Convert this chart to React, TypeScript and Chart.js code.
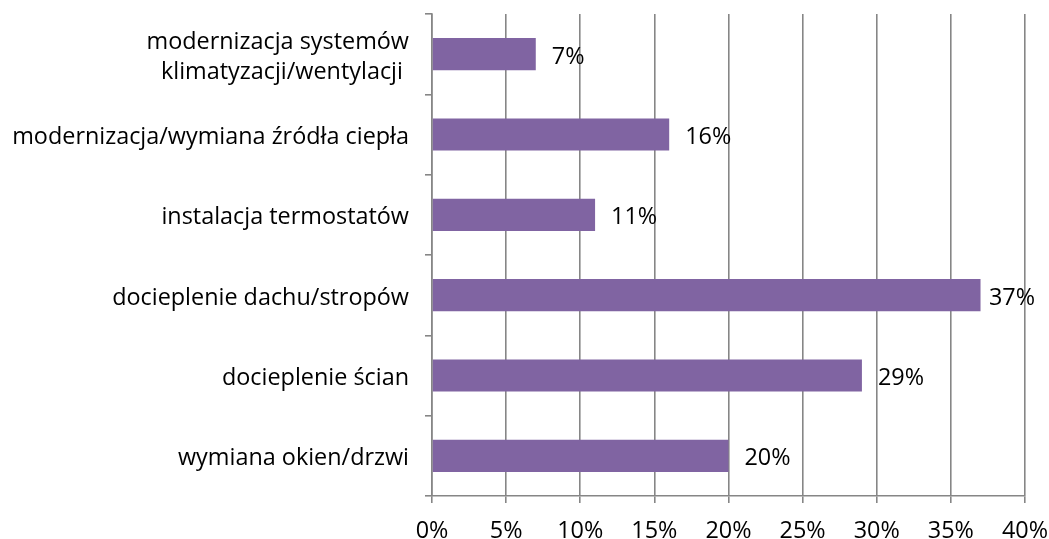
import React, { useEffect, useRef } from "react";
import { Chart, registerables } from "chart.js";

Chart.register(...registerables);

const categories: (string | string[])[] = [
  ["modernizacja systemów", "klimatyzacji/wentylacji "],
  "modernizacja/wymiana źródła ciepła",
  "instalacja termostatów",
  "docieplenie dachu/stropów",
  "docieplenie ścian",
  "wymiana okien/drzwi",
];
const values = [7, 16, 11, 37, 29, 20];
const xTicks = [0, 5, 10, 15, 20, 25, 30, 35, 40];

const FONT = "'Open Sans', sans-serif";
const FSIZE = 23.4;
const GRID = "#868686";
const GW = 1.6;

const labelPlugin = {
  id: "barLabels",
  afterDatasetsDraw(chart: any) {
    const ctx = chart.ctx;
    const meta = chart.getDatasetMeta(0);
    ctx.save();
    ctx.font = `${FSIZE}px ${FONT}`;
    ctx.fillStyle = "#000";
    ctx.textBaseline = "middle";
    ctx.textAlign = "left";
    meta.data.forEach((bar: any, i: number) => {
      const txt = `${values[i]}%`;
      const w = ctx.measureText(txt).width;
      let x = bar.x + 16;
      const maxRight = chart.chartArea.right + 10;
      if (x + w > maxRight) x = maxRight - w;
      ctx.fillText(txt, x, bar.y + 3);
    });
    ctx.restore();
  },
};

export default function App() {
  const ref = useRef<HTMLCanvasElement | null>(null);
  useEffect(() => {
    if (!ref.current) return;
    const chart = new Chart(ref.current, {
      type: "bar",
      data: {
        labels: categories,
        datasets: [
          {
            data: values,
            backgroundColor: "#8064A2",
            borderWidth: 0,
            barPercentage: 0.4,
            categoryPercentage: 1,
          },
        ],
      },
      options: {
        indexAxis: "y",
        animation: false,
        responsive: false,
        maintainAspectRatio: false,
        layout: { padding: { top: 14, right: 24, bottom: 0, left: 0 } },
        plugins: { legend: { display: false }, tooltip: { enabled: false } },
        scales: {
          x: {
            min: 0,
            max: 40,
            afterBuildTicks: (s: any) => {
              s.ticks = xTicks.map((v) => ({ value: v }));
            },
            afterFit: (s: any) => {
              s.height = 539 - 496;
              s.paddingLeft = 0;
              s.paddingRight = 0;
            },
            border: { color: GRID, width: GW },
            grid: { color: GRID, lineWidth: GW, tickLength: 7, drawTicks: true },
            ticks: {
              color: "#000",
              font: { family: FONT, size: FSIZE },
              padding: 14,
              maxRotation: 0,
              callback: (v: any) => `${v}%`,
            },
          },
          y: {
            offset: true,
            afterFit: (s: any) => {
              s.width = 432;
              s.paddingTop = 0;
              s.paddingBottom = 0;
            },
            border: { color: GRID, width: GW },
            grid: {
              offset: true,
              drawOnChartArea: false,
              drawTicks: true,
              tickLength: 7,
              lineWidth: GW,
              color: GRID,
            },
            ticks: {
              color: "#000",
              font: { family: FONT, size: FSIZE, lineHeight: 1.3 },
              padding: 16,
              labelOffset: 3,
            },
          },
        },
      },
      plugins: [labelPlugin],
    });
    return () => chart.destroy();
  }, []);
  return (
    <div style={{ position: "fixed", left: 0, top: 0, width: 1049, height: 539, background: "#fff" }}>
      <canvas ref={ref} width={1049} height={539} style={{ width: 1049, height: 539 }} />
    </div>
  );
}
